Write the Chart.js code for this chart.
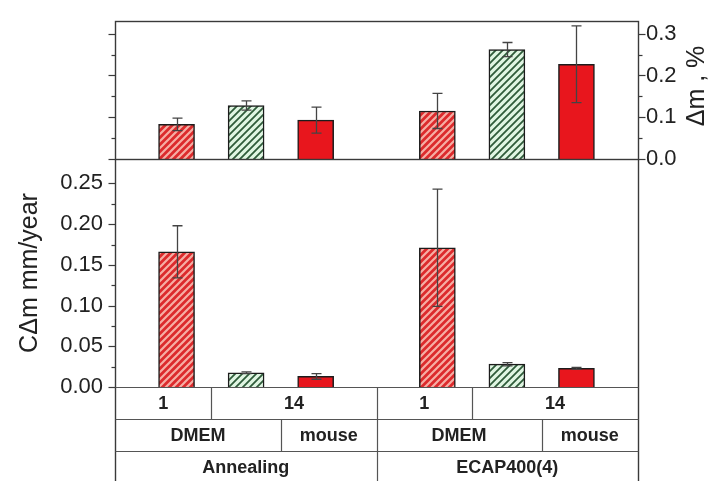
<!DOCTYPE html>
<html>
<head>
<meta charset="utf-8">
<script src="https://cdn.jsdelivr.net/npm/chart.js@4.4.1/dist/chart.umd.min.js"></script>
<style>
  html, body { margin: 0; padding: 0; background: #fff; }
  #wrap { position: relative; width: 709px; height: 481px; overflow: hidden; }
  canvas { position: absolute; left: 0; top: 0; }
</style>
</head>
<body>
<div id="wrap">
  <canvas id="rateChart" width="709" height="481"></canvas>
  <canvas id="massChart" width="709" height="481"></canvas>
</div>
<script>
// bar slots on the x axis, two groups of three
const barSlots = [1, 2, 3, 4.75, 5.75, 6.75];
const slotMin = 0.115;
const slotMax = 7.635;

// top panel: mass change, %
const massLoss = [0.083, 0.128, 0.093, 0.115, 0.262, 0.227];
const massLossErr = [0.015, 0.011, 0.031, 0.042, 0.017, 0.092];
const massTicks = [0, 0.05, 0.1, 0.15, 0.2, 0.25, 0.3];
const massTickLabels = ['0.0', '', '0.1', '', '0.2', '', '0.3'];

// bottom panel: corrosion rate, mm/year
const corrRate = [0.166, 0.0175, 0.013, 0.171, 0.028, 0.023];
const corrRateErr = [0.032, 0.001, 0.0035, 0.072, 0.002, 0.001];
const rateTicks = [0, 0.025, 0.05, 0.075, 0.1, 0.125, 0.15, 0.175, 0.2, 0.225, 0.25];
const rateTickLabels = ['0.00', '', '0.05', '', '0.10', '', '0.15', '', '0.20', '', '0.25'];

// category table under the plot (spans are bar indexes)
const dayLabels = ['1', '14', '1', '14'];
const daySpans = [[0], [1, 2], [3], [4, 5]];
const mediumLabels = ['DMEM', 'mouse', 'DMEM', 'mouse'];
const mediumSpans = [[0, 1], [2], [3, 4], [5]];
const treatmentLabels = ['Annealing', 'ECAP400(4)'];
const treatmentSpans = [[0, 1, 2], [3, 4, 5]];

const barKinds = ['redHatch', 'greenHatch', 'red', 'redHatch', 'greenHatch', 'red'];

const FONT = "'Liberation Sans', Arial, sans-serif";
const LINE = '#3a3a3a';

function hatch(bg, fg, size, lw) {
  const c = document.createElement('canvas');
  c.width = c.height = size;
  const g = c.getContext('2d');
  g.fillStyle = bg;
  g.fillRect(0, 0, size, size);
  g.strokeStyle = fg;
  g.lineWidth = lw;
  g.beginPath();
  g.moveTo(-1, size + 1); g.lineTo(size + 1, -1);
  g.moveTo(-1, 1); g.lineTo(1, -1);
  g.moveTo(size - 1, size + 1); g.lineTo(size + 1, size - 1);
  g.stroke();
  return g.createPattern(c, 'repeat');
}

const fills = {
  redHatch: hatch('#dc2a2c', '#f6aea4', 7, 2.2),
  greenHatch: hatch('#e0f6e3', '#2f5c3a', 7, 1.8),
  red: '#e8161d'
};
const barColors = barKinds.map(k => fills[k]);

function slotEdge(i) {
  if (i <= 0) return slotMin;
  if (i >= barSlots.length) return slotMax;
  return (barSlots[i - 1] + barSlots[i]) / 2;
}

function drawTicks(ctx, scale, labels, xEdge, dir) {
  scale.ticks.forEach((t, i) => {
    const y = Math.round(scale.getPixelForValue(t.value)) + 0.5;
    const len = labels[i] ? 7 : 4;
    ctx.beginPath();
    ctx.moveTo(xEdge, y);
    ctx.lineTo(xEdge + dir * len, y);
    ctx.stroke();
  });
}

function drawErrors(ctx, chart, values, errors) {
  const xs = chart.scales.x, ys = chart.scales.y;
  ctx.strokeStyle = '#444';
  ctx.lineWidth = 1.3;
  values.forEach((v, i) => {
    const x = Math.round(xs.getPixelForValue(barSlots[i])) + 0.5;
    const yHi = ys.getPixelForValue(v + errors[i]);
    const yLo = ys.getPixelForValue(Math.max(0, v - errors[i]));
    ctx.beginPath();
    ctx.moveTo(x, yHi); ctx.lineTo(x, yLo);
    ctx.moveTo(x - 5, yHi); ctx.lineTo(x + 5, yHi);
    ctx.moveTo(x - 5, yLo); ctx.lineTo(x + 5, yLo);
    ctx.stroke();
  });
}

const massPanel = {
  id: 'massPanel',
  afterDatasetsDraw(chart) {
    const {ctx, chartArea: a} = chart;
    ctx.save();
    drawErrors(ctx, chart, massLoss, massLossErr);
    ctx.strokeStyle = LINE;
    ctx.lineWidth = 1.4;
    const L = Math.round(a.left) + 0.5, R = Math.round(a.right) + 0.5;
    const T = Math.round(a.top) + 0.5, B = Math.round(a.bottom) + 0.5;
    ctx.strokeRect(L, T, R - L, B - T);
    ctx.lineWidth = 1.2;
    drawTicks(ctx, chart.scales.y, massTickLabels, R, 1);
    drawTicks(ctx, chart.scales.yL, massTickLabels, L, -1);
    // right axis title, reading bottom to top
    ctx.translate(697, 86);
    ctx.rotate(-Math.PI / 2);
    ctx.fillStyle = '#222';
    ctx.font = '25px ' + FONT;
    ctx.textAlign = 'center';
    ctx.textBaseline = 'middle';
    ctx.fillText('\u0394m , %', 0, 0);
    ctx.restore();
  }
};

const ratePanel = {
  id: 'ratePanel',
  afterDatasetsDraw(chart) {
    const {ctx, chartArea: a, scales} = chart;
    ctx.save();
    drawErrors(ctx, chart, corrRate, corrRateErr);
    ctx.strokeStyle = LINE;
    ctx.lineWidth = 1.4;
    const L = Math.round(a.left) + 0.5, R = Math.round(a.right) + 0.5;
    const T = Math.round(a.top) + 0.5, B = Math.round(a.bottom) + 0.5;
    const rowH = 32;
    const tableBottom = B + rowH * 3;
    ctx.beginPath();
    ctx.moveTo(L, T); ctx.lineTo(L, tableBottom);
    ctx.moveTo(R, T); ctx.lineTo(R, tableBottom);
    ctx.stroke();
    ctx.lineWidth = 1.2;
    drawTicks(ctx, scales.y, rateTickLabels, L, -1);

    // category table
    const rows = [[dayLabels, daySpans], [mediumLabels, mediumSpans], [treatmentLabels, treatmentSpans]];
    ctx.font = 'bold 18px ' + FONT;
    ctx.fillStyle = '#222';
    ctx.textAlign = 'center';
    ctx.textBaseline = 'middle';
    ctx.strokeStyle = '#555';
    rows.forEach(([labels, spans], r) => {
      const y0 = B + r * rowH;
      ctx.beginPath();
      ctx.moveTo(L, y0); ctx.lineTo(R, y0);
      ctx.stroke();
      spans.forEach((span, c) => {
        const x0 = scales.x.getPixelForValue(slotEdge(span[0]));
        const x1 = scales.x.getPixelForValue(slotEdge(span[span.length - 1] + 1));
        if (c > 0) {
          const xl = Math.round(x0) + 0.5;
          ctx.beginPath();
          ctx.moveTo(xl, y0); ctx.lineTo(xl, y0 + rowH);
          ctx.stroke();
        }
        ctx.fillText(labels[c], (x0 + x1) / 2, y0 + rowH / 2 + 1);
      });
    });
    ctx.restore();
  }
};

function barData(values) {
  return values.map((v, i) => ({x: barSlots[i], y: v}));
}

const xScale = {type: 'linear', min: slotMin, max: slotMax, offset: false, display: false};

new Chart(document.getElementById('massChart'), {
  type: 'bar',
  data: {
    datasets: [{
      data: barData(massLoss),
      backgroundColor: barColors,
      borderColor: '#1c1c1c',
      borderWidth: 1.5,
      barThickness: 36,
      yAxisID: 'y'
    }]
  },
  options: {
    responsive: false,
    animation: false,
    devicePixelRatio: 1,
    layout: {padding: {top: 16, bottom: 322, left: 0, right: 0}},
    plugins: {legend: {display: false}, tooltip: {enabled: false}},
    scales: {
      x: xScale,
      y: {
        position: 'right', min: 0, max: 0.33,
        afterBuildTicks: s => { s.ticks = massTicks.map(v => ({value: v})); },
        afterFit: s => { s.width = 71; },
        ticks: {
          autoSkip: false, padding: 8, color: '#222',
          font: {family: FONT, size: 22},
          callback: (v, i) => massTickLabels[i]
        },
        grid: {display: false, drawTicks: false},
        border: {display: false}
      },
      yL: {
        position: 'left', min: 0, max: 0.33,
        afterBuildTicks: s => { s.ticks = massTicks.map(v => ({value: v})); },
        afterFit: s => { s.width = 115; },
        ticks: {display: false},
        grid: {display: false, drawTicks: false},
        border: {display: false}
      }
    }
  },
  plugins: [massPanel]
});

new Chart(document.getElementById('rateChart'), {
  type: 'bar',
  data: {
    datasets: [{
      data: barData(corrRate),
      backgroundColor: barColors,
      borderColor: '#1c1c1c',
      borderWidth: 1.5,
      barThickness: 36
    }]
  },
  options: {
    responsive: false,
    animation: false,
    devicePixelRatio: 1,
    layout: {padding: {top: 159, bottom: 94, left: 0, right: 71}},
    plugins: {legend: {display: false}, tooltip: {enabled: false}},
    scales: {
      x: xScale,
      y: {
        position: 'left', min: 0, max: 0.28,
        afterBuildTicks: s => { s.ticks = rateTicks.map(v => ({value: v})); },
        afterFit: s => { s.width = 115; },
        ticks: {
          autoSkip: false, padding: 12, color: '#222',
          font: {family: FONT, size: 22},
          callback: (v, i) => rateTickLabels[i]
        },
        title: {
          display: true, text: 'C\u0394m mm/year', color: '#222',
          font: {family: FONT, size: 25}, padding: {top: 15, bottom: 0}
        },
        grid: {display: false, drawTicks: false},
        border: {display: false}
      }
    }
  },
  plugins: [ratePanel]
});
</script>
</body>
</html>
